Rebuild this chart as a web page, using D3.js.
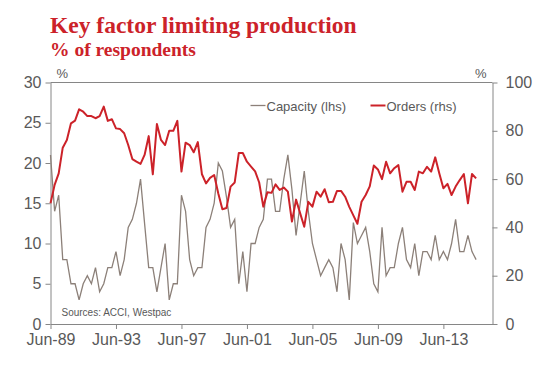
<!DOCTYPE html>
<html>
<head>
<meta charset="utf-8">
<script src="https://cdn.jsdelivr.net/npm/d3@7"></script>
<style>
    body { margin: 0; background: #fff; }
    text { font-family: "Liberation Sans", Arial, sans-serif; }
</style>
</head>
<body>
<div id="chart"></div>
<script>
// quarterly survey readings, Jun-89 .. Jun-15
const capacity = [21, 14, 16, 8, 8, 5, 5, 3, 5, 6, 5, 7, 4, 5, 7, 7, 9, 6, 8, 12,
    13, 15, 18, 12.5, 7, 7, 4, 7, 10, 3, 5, 5, 16, 14, 8, 6, 7, 7, 12, 13,
    15, 20, 19, 15.8, 12, 13, 5, 9, 4, 10, 10, 12, 13, 18, 18, 14, 14, 18, 21, 16.7,
    11, 15, 19, 14, 10, 8, 6, 7, 8, 7, 4, 10, 8, 3, 12.6, 10, 11, 12, 9, 5,
    4, 12, 6, 7, 7, 10, 12, 8, 7, 10, 6, 9, 9, 8, 11, 8, 9, 8, 10, 13,
    9, 9, 11, 9, 8];
const orders = [50, 57.6, 62.4, 73, 76.2, 83.1, 84.2, 88.9, 87.9, 86.1, 86.1, 85.2, 86.1, 90, 84.1, 84.8, 81, 80.7, 79, 74.1,
    68.3, 67.2, 66.3, 70, 77.8, 62, 82.8, 76.2, 74.1, 80, 80, 84.1, 63.1, 75.1, 74.1, 71.1, 75.3, 62, 58.2, 60.5,
    61.7, 54, 47.5, 48, 56.9, 58.6, 70.8, 70.8, 67.2, 65.2, 63.2, 58.6, 48.6, 54.6, 54.3, 57.8, 55.5, 56.5, 54.8, 42.4,
    51.5, 45.8, 40.3, 50.6, 48.6, 54.8, 52.7, 55.8, 50.4, 50.6, 55.1, 55.1, 52.7, 48.5, 45, 41.5, 50.6, 53.4, 57, 65.6,
    64, 60, 67.2, 62.4, 64.5, 65.8, 54.8, 58.9, 58.9, 55.5, 63.1, 62.4, 65.1, 63.1, 69, 62.4, 56.2, 58, 53.4, 56.9,
    59.6, 62.1, 50, 62.1, 60.3];

const tickLabels = ["Jun-89", "Jun-93", "Jun-97", "Jun-01", "Jun-05", "Jun-09", "Jun-13"];
const leftTicks = [0, 5, 10, 15, 20, 25, 30];
const rightTicks = [0, 20, 40, 60, 80, 100];
const seriesNames = ["Capacity (lhs)", "Orders (rhs)"];

class DualAxisChart {
    constructor(parentContainer) {
        this.parentContainer = parentContainer;
        this.initVis();
    }

    initVis() {
        let vis = this;

        vis.margin = {top: 82.5, right: 51.5, bottom: 51, left: 50.5};
        vis.width = 544 - vis.margin.left - vis.margin.right;
        vis.height = 375 - vis.margin.top - vis.margin.bottom;

        vis.root = d3.select(`#${vis.parentContainer}`)
            .append("svg")
            .attr("width", 544)
            .attr("height", 375);

        vis.svg = vis.root.append("g")
            .attr("transform", `translate(${vis.margin.left}, ${vis.margin.top})`);

        vis.wrangleData();
    }

    wrangleData() {
        let vis = this;
        // one date per quarter, Jun-89 onwards
        vis.quarters = d3.timeMonth.range(new Date(1989, 5, 1), new Date(2015, 6, 1), 3);
        vis.capData = capacity.map((v, i) => ({date: vis.quarters[i], value: v}));
        vis.ordData = orders.map((v, i) => ({date: vis.quarters[i], value: v}));
        vis.updateVis();
    }

    updateVis() {
        let vis = this;
        const parse = d3.timeParse("%b-%y");

        const x = d3.scaleTime()
            .domain([new Date(1989, 5, 1), new Date(2016, 5, 1)])
            .range([0, vis.width]);
        const yLeft = d3.scaleLinear().domain([0, 30]).range([vis.height, 0]);
        const yRight = d3.scaleLinear().domain([0, 100]).range([vis.height, 0]);

        const axisColor = "#868686";
        const labelColor = "#595959";

        // Titles
        vis.root.append("text")
            .attr("x", 50).attr("y", 33)
            .style("font-family", "'Liberation Serif', serif")
            .style("font-weight", "bold")
            .style("font-size", "23.5px")
            .style("fill", "#cc2229")
            .text("Key factor limiting production");
        vis.root.append("text")
            .attr("x", 50).attr("y", 56)
            .style("font-family", "'Liberation Serif', serif")
            .style("font-weight", "bold")
            .style("font-size", "19.5px")
            .style("fill", "#cc2229")
            .text("% of respondents");

        // Top border
        vis.svg.append("line")
            .attr("x1", 0).attr("x2", vis.width)
            .attr("y1", 0).attr("y2", 0)
            .attr("stroke", axisColor);

        // Axes
        const styleAxis = (g) => {
            g.select(".domain").attr("stroke", axisColor);
            g.selectAll(".tick line").attr("stroke", axisColor);
            g.selectAll(".tick text")
                .style("font-size", "16px")
                .style("fill", labelColor);
        };

        vis.svg.append("g")
            .call(d3.axisLeft(yLeft).tickValues(leftTicks).tickSize(5).tickSizeOuter(0).tickPadding(4))
            .call(styleAxis);

        vis.svg.append("g")
            .attr("transform", `translate(${vis.width}, 0)`)
            .call(d3.axisRight(yRight).tickValues(rightTicks).tickSize(5).tickSizeOuter(0).tickPadding(8))
            .call(styleAxis);

        vis.svg.append("g")
            .attr("transform", `translate(0, ${vis.height})`)
            .call(d3.axisBottom(x)
                .tickValues(tickLabels.map(parse))
                .tickFormat(d3.timeFormat("%b-%y"))
                .tickSize(5).tickSizeOuter(0).tickPadding(5))
            .call(styleAxis);

        // % unit labels
        vis.svg.append("text")
            .attr("x", 6).attr("y", -5)
            .style("font-size", "13px").style("fill", labelColor)
            .text("%");
        vis.svg.append("text")
            .attr("x", vis.width - 6).attr("y", -5)
            .attr("text-anchor", "end")
            .style("font-size", "13px").style("fill", labelColor)
            .text("%");

        // Lines
        const lineLeft = d3.line().x(d => x(d.date)).y(d => yLeft(d.value));
        const lineRight = d3.line().x(d => x(d.date)).y(d => yRight(d.value));

        vis.svg.append("path")
            .datum(vis.capData)
            .attr("fill", "none")
            .attr("stroke", "#8c8079")
            .attr("stroke-width", 1.3)
            .attr("d", lineLeft);

        vis.svg.append("path")
            .datum(vis.ordData)
            .attr("fill", "none")
            .attr("stroke", "#cc2229")
            .attr("stroke-width", 2)
            .attr("stroke-linejoin", "round")
            .attr("d", lineRight);

        // Legend
        const legend = [
            {name: seriesNames[0], color: "#8c8079", w: 1.3, x: 200},
            {name: seriesNames[1], color: "#cc2229", w: 2, x: 320}
        ];
        legend.forEach(l => {
            vis.svg.append("line")
                .attr("x1", l.x).attr("x2", l.x + 15)
                .attr("y1", 23).attr("y2", 23)
                .attr("stroke", l.color).attr("stroke-width", l.w);
            vis.svg.append("text")
                .attr("x", l.x + 16).attr("y", 28)
                .style("font-size", "13px").style("fill", labelColor)
                .text(l.name);
        });

        // Source
        vis.svg.append("text")
            .attr("x", 11).attr("y", vis.height - 8)
            .style("font-size", "10px").style("fill", labelColor)
            .text("Sources: ACCI, Westpac");
    }
}

new DualAxisChart("chart");
</script>
</body>
</html>
